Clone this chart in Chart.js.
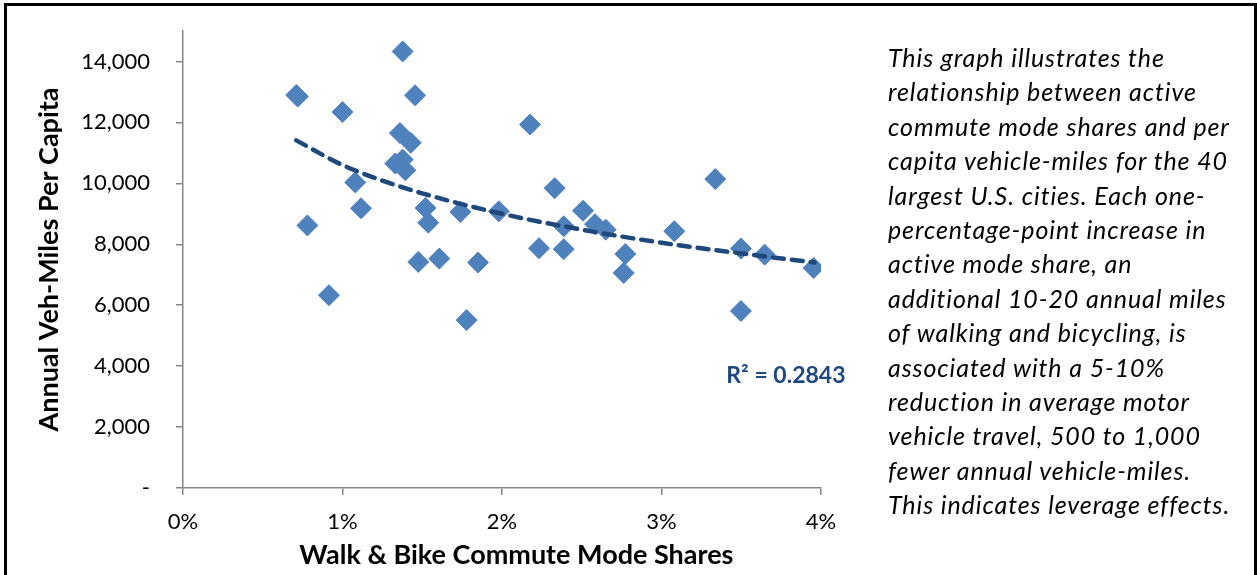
<!DOCTYPE html>
<html>
<head>
<meta charset="utf-8">
<script src="https://cdn.jsdelivr.net/npm/chart.js@4"></script>
<style>
  html, body { margin: 0; padding: 0; background: #fff; }
  body { width: 1257px; height: 575px; position: relative; overflow: hidden; }
  #cadre { position: absolute; left: 4px; top: 3px; width: 1253px; height: 620px; box-sizing: border-box; border: 3px solid #000; }
  #graphique { position: absolute; left: 0; top: 0; }
  #note { position: absolute; left: 888px; top: 40px; width: 365px; font-family: Lato, sans-serif; font-style: italic; font-size: 25px; letter-spacing: 0.9px; line-height: 34.4px; color: #000; white-space: nowrap; }
</style>
</head>
<body>
<div id="cadre"></div>
<canvas id="graphique" width="1257" height="575"></canvas>
<div id="note">This graph illustrates the<br>relationship between active<br>commute mode shares and per<br>capita vehicle-miles for the 40<br>largest U.S. cities. Each one-<br>percentage-point increase in<br>active mode share, an<br>additional 10-20 annual miles<br>of walking and bicycling, is<br>associated with a 5-10%<br>reduction in average motor<br>vehicle travel, 500 to 1,000<br>fewer annual vehicle-miles.<br>This indicates leverage effects.</div>
<script>
// Parts modales marche + vélo (%) et miles-véhicule annuels par habitant
const partsModales = [0.71, 0.72, 0.78, 0.915, 1.00, 1.08, 1.116, 1.331, 1.36, 1.377, 1.377, 1.394, 1.428, 1.455, 1.475, 1.52, 1.538, 1.607, 1.739, 1.778, 1.85, 1.98, 2.176, 2.232, 2.33, 2.387, 2.387, 2.508, 2.583, 2.65, 2.763, 2.773, 3.08, 3.337, 3.498, 3.498, 3.647, 3.954];
const milesParHabitant = [12900, 12850, 8620, 6330, 12340, 10030, 9180, 10650, 11650, 14330, 10780, 10430, 11330, 12890, 7420, 9190, 8710, 7530, 9060, 5510, 7400, 9080, 11930, 7870, 9840, 8590, 7840, 9100, 8660, 8480, 7060, 7680, 8430, 10140, 7860, 5810, 7660, 7220];

// Courbe de tendance (logarithmique)
const tendanceX = [0.71, 1.0, 1.25, 1.5, 2.0, 2.5, 3.0, 3.5, 3.96];
const tendanceY = [11410, 10600, 10090, 9670, 9000, 8480, 8050, 7700, 7400];

const graduationsY = [0, 2000, 4000, 6000, 8000, 10000, 12000, 14000];
const etiquetteR2 = "R² = 0.2843";
const titreX = "Walk & Bike Commute Mode Shares";

const points = partsModales.map((x, i) => ({ x: x, y: milesParHabitant[i] }));
const tendance = tendanceX.map((x, i) => ({ x: x, y: tendanceY[i] }));

// Étiquette du R² et titre de l'axe X (légèrement décalé à droite comme dans Excel)
const pluginTextes = {
    id: "textes",
    afterDatasetsDraw(chart) {
        const ctx = chart.ctx;
        const echelleX = chart.scales.x;
        ctx.save();
        ctx.textAlign = "center";
        ctx.textBaseline = "middle";

        ctx.font = "bold 23px Lato";
        ctx.fillStyle = "#1F497D";
        ctx.fillText(etiquetteR2, echelleX.getPixelForValue(3.78), chart.scales.y.getPixelForValue(3700));

        ctx.font = "bold 27px Lato";
        ctx.fillStyle = "#000";
        ctx.fillText(titreX, echelleX.getPixelForValue(2.09), echelleX.bottom - 20);
        ctx.restore();
    }
};

const couleurAxe = "#868686";

const config = {
    type: "scatter",
    data: {
        datasets: [{
            data: points,
            pointStyle: "rectRot",
            pointRadius: 10.5,
            backgroundColor: "#4F81BD",
            borderColor: "#4F81BD",
            borderWidth: 1,
            order: 1
        }, {
            data: tendance,
            showLine: true,
            pointRadius: 0,
            borderColor: "#1F497D",
            borderWidth: 4.5,
            borderDash: [11, 8],
            borderCapStyle: "round",
            cubicInterpolationMode: "monotone",
            order: 0
        }]
    },
    options: {
        responsive: false,
        animation: false,
        layout: { padding: { left: 20, right: 436, top: 31, bottom: 0 } },
        plugins: { legend: { display: false }, tooltip: { enabled: false } },
        scales: {
            x: {
                type: "linear",
                min: 0,
                max: 4,
                afterFit(scale) { scale.height = 87; },
                border: { color: couleurAxe, width: 1.5 },
                grid: { drawOnChartArea: false, color: couleurAxe, tickLength: 7, lineWidth: 1.5 },
                ticks: {
                    stepSize: 1,
                    padding: 14,
                    color: "#000",
                    font: { family: "Lato", size: 22 },
                    callback: v => v + "%"
                }
            },
            y: {
                type: "linear",
                min: 0,
                max: 15000,
                afterFit(scale) {
                    scale.width = 163;
                    // la marge des étiquettes ne doit pas réduire la zone du graphique
                    scale.paddingTop = 0;
                    scale.paddingBottom = 0;
                },
                afterBuildTicks(scale) { scale.ticks = graduationsY.map(v => ({ value: v })); },
                border: { color: couleurAxe, width: 1.5 },
                grid: { drawOnChartArea: false, color: couleurAxe, tickLength: 7, lineWidth: 1.5 },
                ticks: {
                    padding: 26,
                    color: "#000",
                    font: { family: "Lato", size: 22 },
                    callback: v => v === 0 ? "-" : v.toLocaleString("en-US")
                },
                title: {
                    display: true,
                    text: "Annual Veh-Miles Per Capita",
                    color: "#000",
                    font: { family: "Lato", size: 27, weight: "bold" },
                    padding: { top: 13, bottom: 0 }
                }
            }
        }
    },
    plugins: [pluginTextes]
};

const graphique = new Chart(document.querySelector("#graphique"), config);
</script>
</body>
</html>
